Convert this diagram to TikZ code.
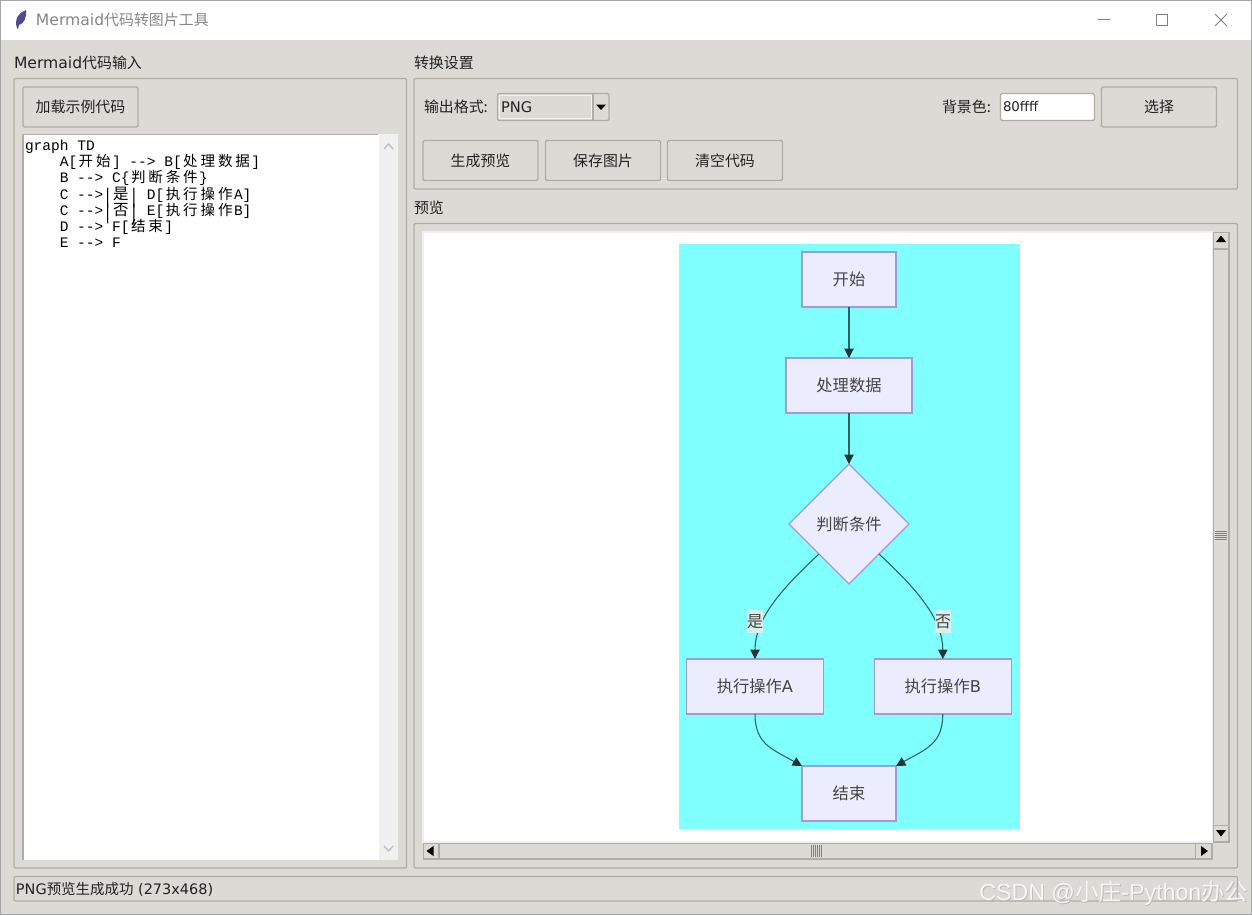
\documentclass[tikz,border=0pt]{standalone}
\usepackage{fontspec}
\usetikzlibrary{arrows.meta,shapes.geometric}
\setmainfont{DejaVu Sans}
\newfontfamily\cjk{Noto Sans CJK SC}
\newfontfamily\codefont{Liberation Mono}
\newfontfamily\wmfont{Liberation Sans}
\newcommand{\zh}[1]{{\cjk #1}}
\newcommand{\cj}[1]{\makebox[13.05pt][c]{\smash{\cjk #1}}}
\newcommand{\cjbig}[1]{\makebox[13.05pt][c]{\smash{\cjk\fontsize{11.6}{12}\selectfont #1}}}
\newcommand{\tallbar}{\smash{\raisebox{-3.5pt}{\scalebox{1}[1.45]{|}}}}
\def\upx{0.75pt}
\definecolor{winbg}{HTML}{DBDAD5}
\definecolor{edgeg}{HTML}{B0ACA4}
\definecolor{flowfill}{HTML}{ECECFF}
\definecolor{flowline}{HTML}{A09AD8}
\definecolor{cyanbg}{HTML}{80FFFF}
\definecolor{arrowl}{HTML}{2E6264}
\definecolor{headc}{HTML}{263436}
\definecolor{flowtxt}{HTML}{444444}
\definecolor{uitxt}{HTML}{222222}
\tikzset{
 ui/.style={inner sep=0pt,outer sep=0pt,font=\fontsize{11.2}{13}\selectfont,text=uitxt},
 uitext/.style={ui,anchor=west},
 frameline/.style={draw=edgeg,line width=0.95pt,rounded corners=1pt},
 btnbox/.style={ui,rectangle,draw=edgeg,fill=winbg,line width=1pt,rounded corners=1pt},
 codeline/.style={inner sep=0pt,outer sep=0pt,anchor=base west,text=black,font=\codefont\fontsize{10.9}{12}\selectfont},
 flowbox/.style={rectangle,draw=flowline,fill=flowfill,line width=0.9pt,inner sep=0pt,outer sep=0pt,text=flowtxt,font=\fontsize{12.2}{13}\selectfont},
 flowdia/.style={flowbox,diamond,minimum width=120*\upx,minimum height=120*\upx,aspect=1},
 flowedge/.style={draw=arrowl,line width=0.8pt,-{Triangle[length=7pt,width=7pt,fill=headc,color=headc]}},
 edgelabel/.style={fill=winbg!70!cyanbg!60!white,inner sep=0pt,outer sep=0pt,minimum width=16*\upx,minimum height=23*\upx,text=flowtxt,font=\fontsize{12.2}{13}\selectfont},
 sbbtn/.style={draw=edgeg,fill=winbg,line width=0.9pt},
}
\begin{document}
\begin{tikzpicture}[x=0.75pt,y=-0.75pt]
\useasboundingbox (0,0) rectangle (1252,915);
% window
\fill[winbg] (0,0) rectangle (1252,915);
\fill[white] (1,1) rectangle (1251,40);
\draw[draw=gray!70,line width=0.8pt] (0.5,0.5) rectangle (1251.5,914.5);
% title
\fill[fill=black!35!blue!40!gray] (17,28) .. controls (14,19) and (19,12) .. (26,10) .. controls (27,17) and (24,24) .. (19,25) -- (18,29) -- cycle;
\node[uitext,text=gray!95] (title) at (36,20) {{\fontsize{11.7}{13}\selectfont Mermaid}\zh{代码转图片工具}};
\draw[draw=gray,line width=0.7pt] (1098,19.5) -- (1110,19.5);
\draw[draw=gray,line width=0.7pt] (1156.5,14.5) rectangle (1167.5,25.5);
\draw[draw=gray,line width=0.7pt] (1215,14) -- (1227,26) (1227,14) -- (1215,26);
% left panel
\node[uitext] (lefttitle) at (14,62.5) {{\fontsize{11.7}{13}\selectfont Mermaid}\zh{代码输入}};
\draw[frameline] (14,78.5) rectangle (406.5,868);
\node[btnbox,minimum width=115*\upx,minimum height=40*\upx] (loadbtn) at (80.5,107) {\zh{加载示例代码}};
\fill[white] (23,134) rectangle (398,860);
\draw[draw=edgeg,line width=0.8pt] (23,860) -- (23,134.5) -- (378,134.5);
\fill[black!6] (379,134) rectangle (398,860);
\draw[draw=black!25,line width=1pt] (384,149) -- (388.5,144) -- (393,149);
\draw[draw=black!25,line width=1pt] (384,846) -- (388.5,851) -- (393,846);
\node[codeline] (c1) at (25,150.5) {graph TD};
\node[codeline] (c2) at (59.8,166.5) {A[\cj{开}\cj{始}] -{}-> B[\cj{处}\cj{理}\cj{数}\cj{据}]};
\node[codeline] (c3) at (59.8,182.5) {B -{}-> C\{\cj{判}\cj{断}\cj{条}\cj{件}\}};
\node[codeline] (c4) at (59.8,199) {C -{}->\tallbar\cjbig{是}\tallbar{} D[\cj{执}\cj{行}\cj{操}\cj{作}A]};
\node[codeline] (c5) at (59.8,215) {C -{}->\tallbar\cjbig{否}\tallbar{} E[\cj{执}\cj{行}\cj{操}\cj{作}B]};
\node[codeline] (c6) at (59.8,231.5) {D -{}-> F[\cj{结}\cj{束}]};
\node[codeline] (c7) at (59.8,247.5) {E -{}-> F};
% settings
\node[uitext] (settitle) at (414,62.5) {\zh{转换设置}};
\draw[frameline] (414,78.5) rectangle (1237.5,189);
\node[uitext] (fmtlabel) at (424,107) {\zh{输出格式:}};
\draw[btnbox] (497.5,93.5) rectangle (609,120.5);
\draw[draw=white!60!winbg,line width=0.8pt] (499.5,95.5) rectangle (592,118.5);
\draw[draw=edgeg,line width=0.8pt] (593,94) -- (593,120);
\fill[black] (596,104.5) -- (606,104.5) -- (601,110) -- cycle;
\node[uitext,font=\fontsize{11}{13}\selectfont] (fmtval) at (501,107) {PNG};
\node[uitext] (bglabel) at (942,107) {\zh{背景色:}};
\node[ui,rectangle,fill=white,draw=edgeg,line width=1pt,rounded corners=1pt,minimum width=94*\upx,minimum height=27*\upx] (bgentry) at (1047.5,107) {};
\node[uitext,font=\fontsize{10}{13}\selectfont] (bgvalue) at (1003,107) {80ffff};
\node[btnbox,minimum width=115*\upx,minimum height=40*\upx] (pickbtn) at (1159,107) {\zh{选择}};
\node[btnbox,minimum width=115*\upx,minimum height=40*\upx] (genbtn) at (480.5,160.5) {\zh{生成预览}};
\node[btnbox,minimum width=115*\upx,minimum height=40*\upx] (savebtn) at (603,160.5) {\zh{保存图片}};
\node[btnbox,minimum width=115*\upx,minimum height=40*\upx] (clearbtn) at (725,160.5) {\zh{清空代码}};
% preview
\node[uitext] (pvtitle) at (414,207.5) {\zh{预览}};
\draw[frameline] (414,223.5) rectangle (1237.5,868);
\fill[black!6] (422,231) rectangle (1213,843);
\fill[white] (424,233) rectangle (1212,841);
% scrollbars
\draw[sbbtn] (1213.5,232.5) rectangle (1229,842);
\draw[sbbtn] (1213.5,232.5) rectangle (1229,249);
\draw[sbbtn] (1213.5,825.5) rectangle (1229,842);
\fill[black] (1221,235.5) -- (1226,242) -- (1216,242) -- cycle;
\fill[black] (1221,836.5) -- (1226,830) -- (1216,830) -- cycle;
\foreach \yy in {531,533,535,537,539} \draw[draw=gray,line width=0.5pt] (1215,\yy) -- (1227,\yy);
\draw[sbbtn] (423.5,843.5) rectangle (1212,859);
\draw[sbbtn] (423.5,843.5) rectangle (439,859);
\draw[sbbtn] (1195.5,843.5) rectangle (1212,859);
\fill[black] (426.5,851) -- (433.5,846) -- (433.5,856) -- cycle;
\fill[black] (1208,851) -- (1201,846) -- (1201,856) -- cycle;
\foreach \xx in {811,813,815,817,819,821} \draw[draw=gray,line width=0.5pt] (\xx,845) -- (\xx,857);
% flowchart
\fill[cyanbg] (679,244) rectangle (1020,829);
\node[flowbox,minimum width=94*\upx,minimum height=55*\upx] (na) at (849,279.5) {\zh{开始}};
\node[flowbox,minimum width=126*\upx,minimum height=55*\upx] (nb) at (849,385.5) {\zh{处理数据}};
\node[flowdia] (nc) at (849,524) {\zh{判断条件}};
\node[flowbox,minimum width=137*\upx,minimum height=55*\upx] (nd) at (755,686.5) {\zh{执行操作}A};
\node[flowbox,minimum width=137*\upx,minimum height=55*\upx] (ne) at (942.8,686.5) {\zh{执行操作}B};
\node[flowbox,minimum width=94*\upx,minimum height=55*\upx] (nf) at (849,793.5) {\zh{结束}};
\draw[flowedge] (na.south) -- (nb.north);
\draw[flowedge] (nb.south) -- (nc.north);
\draw[flowedge] (nc.south west) .. controls +(-40,37) and +(0,-39) .. (nd.north);
\draw[flowedge] (nc.south east) .. controls +(40,37) and +(0,-39) .. (ne.north);
\draw[flowedge] (nd.south) .. controls +(0,30) and +(-30,-17) .. (nf.north west);
\draw[flowedge] (ne.south) .. controls +(0,30) and +(30,-17) .. (nf.north east);
\node[edgelabel] (ly) at (755,621.5) {\zh{是}};
\node[edgelabel] (ln) at (943,621.5) {\zh{否}};
% status
\draw[frameline] (14,876.5) rectangle (1237.5,901);
\node[uitext,font=\fontsize{10.85}{13}\selectfont] (status) at (16,889) {PNG\zh{预览生成成功} (273x468)};
% watermark
\node[inner sep=0pt,anchor=west,text=gray!55,font=\wmfont\fontsize{17.4}{18}\selectfont] (wms) at (979.8,893.8) {CSDN @\zh{小庄}-Python\zh{办公}};
\node[inner sep=0pt,anchor=west,text=white!75!winbg,font=\wmfont\fontsize{17.4}{18}\selectfont] (wm) at (979,893) {CSDN @\zh{小庄}-Python\zh{办公}};
\end{tikzpicture}
\end{document}
